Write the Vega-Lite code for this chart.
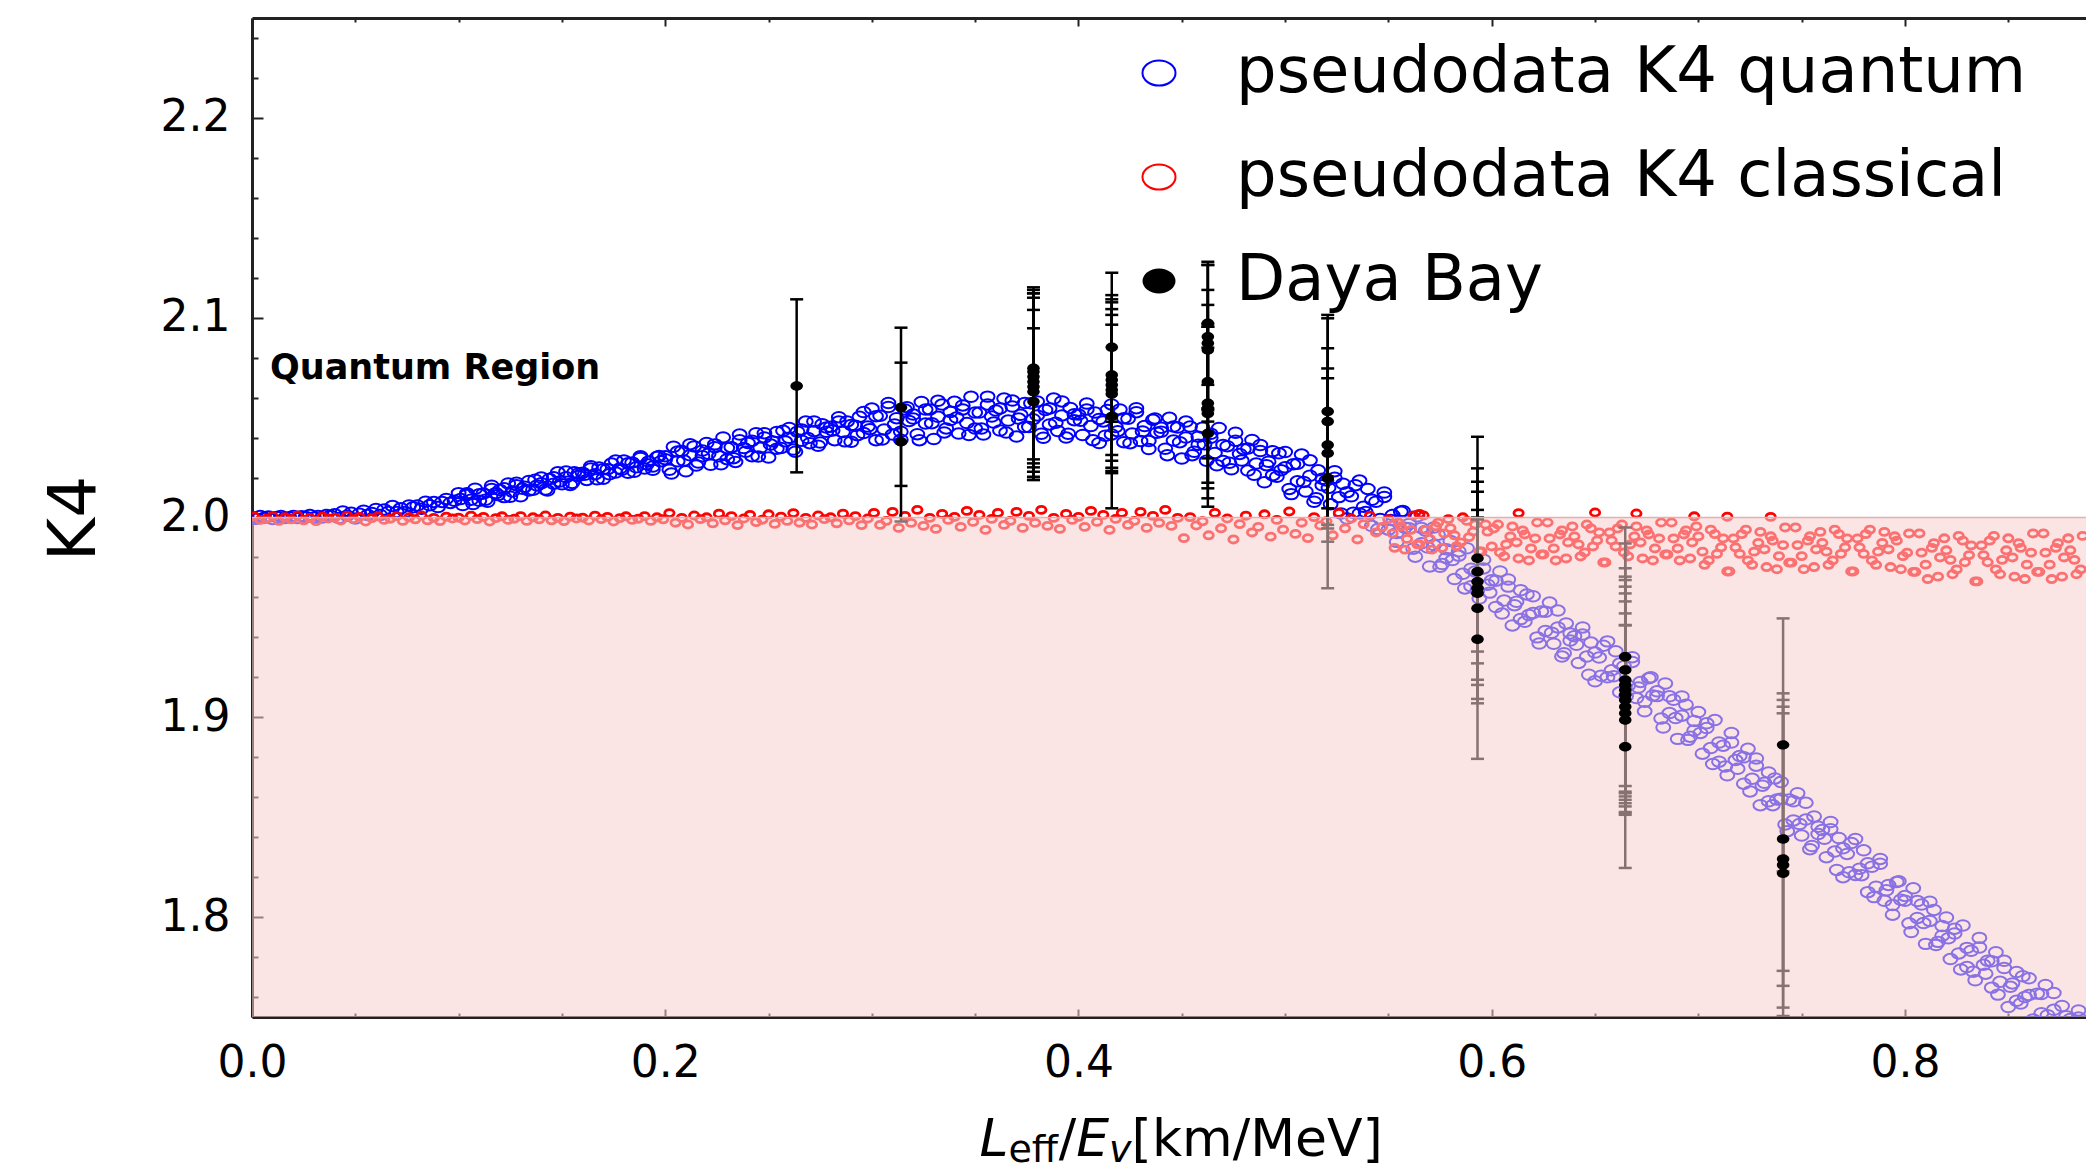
{
"$schema":"https://vega.github.io/schema/vega-lite/v6.json",
"width":1834,"height":999,
"autosize":{"type":"none"},
"padding":{"left":252,"top":18,"right":0,"bottom":155},
"background":"#ffffff",
"config":{"view":{"stroke":null},"font":"DejaVu Sans","axis":{"zindex":1,"grid":false,"labelFlush":false,"labelOverlap":false,"tickColor":"#222222","domainColor":"#222222","tickWidth":2,"domainWidth":3,"labelColor":"#000000","labelFont":"DejaVu Sans"}},
"datasets":{
"blue":[{"x":0,"y":2.0002},{"x":0.002,"y":1.9994},{"x":0.004,"y":2.0007},{"x":0.006,"y":1.9999},{"x":0.008,"y":2.0005},{"x":0.01,"y":1.9993},{"x":0.012,"y":2.0002},{"x":0.014,"y":2.0007},{"x":0.016,"y":1.9998},{"x":0.018,"y":2.0001},{"x":0.02,"y":2.0008},{"x":0.022,"y":1.9997},{"x":0.024,"y":2.0006},{"x":0.026,"y":2.0002},{"x":0.028,"y":2.0012},{"x":0.03,"y":2.0},{"x":0.032,"y":2.0008},{"x":0.034,"y":2.0},{"x":0.036,"y":2.0013},{"x":0.038,"y":2.0009},
{"x":0.04,"y":2.0016},{"x":0.042,"y":1.9997},{"x":0.044,"y":2.003},{"x":0.046,"y":2.0009},{"x":0.048,"y":2.0024},{"x":0.05,"y":1.9995},{"x":0.052,"y":2.0019},{"x":0.054,"y":2.0034},{"x":0.056,"y":2.0012},{"x":0.058,"y":2.0023},{"x":0.06,"y":2.0043},{"x":0.062,"y":2.0013},{"x":0.064,"y":2.004},{"x":0.066,"y":2.0028},{"x":0.068,"y":2.0057},{"x":0.07,"y":2.0027},{"x":0.072,"y":2.0046},{"x":0.074,"y":2.0027},{"x":0.076,"y":2.006},{"x":0.078,"y":2.0051},
{"x":0.08,"y":2.006},{"x":0.082,"y":2.0044},{"x":0.084,"y":2.0079},{"x":0.086,"y":2.0061},{"x":0.088,"y":2.0078},{"x":0.09,"y":2.0052},{"x":0.092,"y":2.0078},{"x":0.094,"y":2.0093},{"x":0.096,"y":2.0073},{"x":0.098,"y":2.0084},{"x":0.1,"y":2.0122},{"x":0.102,"y":2.0062},{"x":0.104,"y":2.0113},{"x":0.106,"y":2.0089},{"x":0.108,"y":2.0144},{"x":0.11,"y":2.0084},{"x":0.112,"y":2.012},{"x":0.114,"y":2.0079},{"x":0.116,"y":2.0143},{"x":0.118,"y":2.0122},
{"x":0.12,"y":2.0138},{"x":0.122,"y":2.0102},{"x":0.124,"y":2.017},{"x":0.126,"y":2.013},{"x":0.128,"y":2.0162},{"x":0.13,"y":2.0106},{"x":0.132,"y":2.0154},{"x":0.134,"y":2.0183},{"x":0.136,"y":2.0139},{"x":0.138,"y":2.016},{"x":0.14,"y":2.02},{"x":0.142,"y":2.014},{"x":0.144,"y":2.0193},{"x":0.146,"y":2.0169},{"x":0.148,"y":2.0226},{"x":0.15,"y":2.0166},{"x":0.152,"y":2.0202},{"x":0.154,"y":2.0163},{"x":0.156,"y":2.0227},{"x":0.158,"y":2.0208},
{"x":0.16,"y":2.0224},{"x":0.162,"y":2.0188},{"x":0.164,"y":2.0257},{"x":0.166,"y":2.0217},{"x":0.168,"y":2.025},{"x":0.17,"y":2.0194},{"x":0.172,"y":2.0242},{"x":0.174,"y":2.027},{"x":0.176,"y":2.0225},{"x":0.178,"y":2.0245},{"x":0.18,"y":2.0285},{"x":0.182,"y":2.0224},{"x":0.184,"y":2.0275},{"x":0.186,"y":2.0251},{"x":0.188,"y":2.0306},{"x":0.19,"y":2.0245},{"x":0.192,"y":2.028},{"x":0.194,"y":2.0239},{"x":0.196,"y":2.0303},{"x":0.198,"y":2.0282},
{"x":0.2,"y":2.0306},{"x":0.202,"y":2.0239},{"x":0.204,"y":2.0354},{"x":0.206,"y":2.0281},{"x":0.208,"y":2.0333},{"x":0.21,"y":2.0231},{"x":0.212,"y":2.0311},{"x":0.214,"y":2.0356},{"x":0.216,"y":2.0275},{"x":0.218,"y":2.0307},{"x":0.22,"y":2.0373},{"x":0.222,"y":2.0264},{"x":0.224,"y":2.0352},{"x":0.226,"y":2.0306},{"x":0.228,"y":2.0401},{"x":0.23,"y":2.0292},{"x":0.232,"y":2.0352},{"x":0.234,"y":2.0278},{"x":0.236,"y":2.0387},{"x":0.238,"y":2.0348},
{"x":0.24,"y":2.0373},{"x":0.242,"y":2.0307},{"x":0.244,"y":2.0422},{"x":0.246,"y":2.0349},{"x":0.248,"y":2.0401},{"x":0.25,"y":2.03},{"x":0.252,"y":2.0381},{"x":0.254,"y":2.0428},{"x":0.256,"y":2.0348},{"x":0.258,"y":2.0381},{"x":0.26,"y":2.0448},{"x":0.262,"y":2.034},{"x":0.264,"y":2.0429},{"x":0.266,"y":2.0384},{"x":0.268,"y":2.048},{"x":0.27,"y":2.0372},{"x":0.272,"y":2.0432},{"x":0.274,"y":2.0359},{"x":0.276,"y":2.0467},{"x":0.278,"y":2.0429},
{"x":0.28,"y":2.0454},{"x":0.282,"y":2.0387},{"x":0.284,"y":2.0502},{"x":0.286,"y":2.0428},{"x":0.288,"y":2.0481},{"x":0.29,"y":2.0379},{"x":0.292,"y":2.0459},{"x":0.294,"y":2.0504},{"x":0.296,"y":2.0423},{"x":0.298,"y":2.0455},{"x":0.3,"y":2.0545},{"x":0.302,"y":2.0387},{"x":0.304,"y":2.0509},{"x":0.306,"y":2.0441},{"x":0.308,"y":2.0573},{"x":0.31,"y":2.0415},{"x":0.312,"y":2.0497},{"x":0.314,"y":2.0389},{"x":0.316,"y":2.0541},{"x":0.318,"y":2.0483},
{"x":0.32,"y":2.0515},{"x":0.322,"y":2.0417},{"x":0.324,"y":2.0578},{"x":0.326,"y":2.047},{"x":0.328,"y":2.0541},{"x":0.33,"y":2.0393},{"x":0.332,"y":2.0504},{"x":0.334,"y":2.0565},{"x":0.336,"y":2.0446},{"x":0.338,"y":2.0488},{"x":0.34,"y":2.0579},{"x":0.342,"y":2.042},{"x":0.344,"y":2.0541},{"x":0.346,"y":2.0473},{"x":0.348,"y":2.0604},{"x":0.35,"y":2.0445},{"x":0.352,"y":2.0525},{"x":0.354,"y":2.0415},{"x":0.356,"y":2.0565},{"x":0.358,"y":2.0505},
{"x":0.36,"y":2.0535},{"x":0.362,"y":2.0435},{"x":0.364,"y":2.0595},{"x":0.366,"y":2.0485},{"x":0.368,"y":2.0555},{"x":0.37,"y":2.0405},{"x":0.372,"y":2.0514},{"x":0.374,"y":2.0573},{"x":0.376,"y":2.0453},{"x":0.378,"y":2.0492},{"x":0.38,"y":2.0581},{"x":0.382,"y":2.0419},{"x":0.384,"y":2.0538},{"x":0.386,"y":2.0466},{"x":0.388,"y":2.0595},{"x":0.39,"y":2.0433},{"x":0.392,"y":2.0511},{"x":0.394,"y":2.04},{"x":0.396,"y":2.0548},{"x":0.398,"y":2.0487},
{"x":0.4,"y":2.0515},{"x":0.402,"y":2.0413},{"x":0.404,"y":2.057},{"x":0.406,"y":2.0458},{"x":0.408,"y":2.0525},{"x":0.41,"y":2.0373},{"x":0.412,"y":2.0481},{"x":0.414,"y":2.0538},{"x":0.416,"y":2.0416},{"x":0.418,"y":2.0453},{"x":0.42,"y":2.0541},{"x":0.422,"y":2.0377},{"x":0.424,"y":2.0494},{"x":0.426,"y":2.042},{"x":0.428,"y":2.0547},{"x":0.43,"y":2.0383},{"x":0.432,"y":2.0458},{"x":0.434,"y":2.0343},{"x":0.436,"y":2.0489},{"x":0.438,"y":2.0424},
{"x":0.44,"y":2.0449},{"x":0.442,"y":2.0344},{"x":0.444,"y":2.0499},{"x":0.446,"y":2.0385},{"x":0.448,"y":2.045},{"x":0.45,"y":2.0295},{"x":0.452,"y":2.04},{"x":0.454,"y":2.0455},{"x":0.456,"y":2.0329},{"x":0.458,"y":2.0364},{"x":0.46,"y":2.0449},{"x":0.462,"y":2.0284},{"x":0.464,"y":2.0399},{"x":0.466,"y":2.0323},{"x":0.468,"y":2.0448},{"x":0.47,"y":2.0283},{"x":0.472,"y":2.0357},{"x":0.474,"y":2.0241},{"x":0.476,"y":2.0384},{"x":0.478,"y":2.0318},
{"x":0.48,"y":2.0342},{"x":0.482,"y":2.0235},{"x":0.484,"y":2.0388},{"x":0.486,"y":2.027},{"x":0.488,"y":2.0333},{"x":0.49,"y":2.0176},{"x":0.492,"y":2.0279},{"x":0.494,"y":2.0332},{"x":0.496,"y":2.0204},{"x":0.498,"y":2.0237},{"x":0.5,"y":2.0328},{"x":0.502,"y":2.0143},{"x":0.504,"y":2.0266},{"x":0.506,"y":2.0181},{"x":0.508,"y":2.0315},{"x":0.51,"y":2.013},{"x":0.512,"y":2.0209},{"x":0.514,"y":2.0079},{"x":0.516,"y":2.0236},{"x":0.518,"y":2.0161},
{"x":0.52,"y":2.0185},{"x":0.522,"y":2.0066},{"x":0.524,"y":2.0232},{"x":0.526,"y":2.0102},{"x":0.528,"y":2.0169},{"x":0.53,"y":1.9995},{"x":0.532,"y":2.0106},{"x":0.534,"y":2.0162},{"x":0.536,"y":2.002},{"x":0.538,"y":2.0054},{"x":0.54,"y":2.0143},{"x":0.542,"y":1.9957},{"x":0.544,"y":2.0079},{"x":0.546,"y":1.9992},{"x":0.548,"y":2.0125},{"x":0.55,"y":1.9939},{"x":0.552,"y":2.0013},{"x":0.554,"y":1.9878},{"x":0.556,"y":2.0029},{"x":0.558,"y":1.9949},
{"x":0.56,"y":1.9968},{"x":0.562,"y":1.9844},{"x":0.564,"y":2.0006},{"x":0.566,"y":1.9871},{"x":0.568,"y":1.9934},{"x":0.57,"y":1.9755},{"x":0.572,"y":1.9862},{"x":0.574,"y":1.9914},{"x":0.576,"y":1.9767},{"x":0.578,"y":1.9797},{"x":0.58,"y":1.9882},{"x":0.582,"y":1.9692},{"x":0.584,"y":1.9809},{"x":0.586,"y":1.9718},{"x":0.588,"y":1.9846},{"x":0.59,"y":1.9656},{"x":0.592,"y":1.973},{"x":0.594,"y":1.9594},{"x":0.596,"y":1.9745},{"x":0.598,"y":1.9664},
{"x":0.6,"y":1.9686},{"x":0.602,"y":1.9552},{"x":0.604,"y":1.973},{"x":0.606,"y":1.9584},{"x":0.608,"y":1.9654},{"x":0.61,"y":1.946},{"x":0.612,"y":1.9578},{"x":0.614,"y":1.9636},{"x":0.616,"y":1.9478},{"x":0.618,"y":1.9512},{"x":0.62,"y":1.9606},{"x":0.622,"y":1.94},{"x":0.624,"y":1.953},{"x":0.626,"y":1.9432},{"x":0.628,"y":1.9574},{"x":0.63,"y":1.9368},{"x":0.632,"y":1.945},{"x":0.634,"y":1.9304},{"x":0.636,"y":1.947},{"x":0.638,"y":1.9384},
{"x":0.64,"y":1.9406},{"x":0.642,"y":1.9272},{"x":0.644,"y":1.945},{"x":0.646,"y":1.9304},{"x":0.648,"y":1.9374},{"x":0.65,"y":1.918},{"x":0.652,"y":1.9299},{"x":0.654,"y":1.9358},{"x":0.656,"y":1.92},{"x":0.658,"y":1.9235},{"x":0.66,"y":1.933},{"x":0.662,"y":1.9125},{"x":0.664,"y":1.9256},{"x":0.666,"y":1.9158},{"x":0.668,"y":1.9301},{"x":0.67,"y":1.9096},{"x":0.672,"y":1.9177},{"x":0.674,"y":1.903},{"x":0.676,"y":1.9196},{"x":0.678,"y":1.9109},
{"x":0.68,"y":1.913},{"x":0.682,"y":1.8994},{"x":0.684,"y":1.9169},{"x":0.686,"y":1.9021},{"x":0.688,"y":1.9088},{"x":0.69,"y":1.8892},{"x":0.692,"y":1.9008},{"x":0.694,"y":1.9063},{"x":0.696,"y":1.8903},{"x":0.698,"y":1.8934},{"x":0.7,"y":1.9026},{"x":0.702,"y":1.8818},{"x":0.704,"y":1.8946},{"x":0.706,"y":1.8846},{"x":0.708,"y":1.8986},{"x":0.71,"y":1.8778},{"x":0.712,"y":1.8858},{"x":0.714,"y":1.871},{"x":0.716,"y":1.8874},{"x":0.718,"y":1.8786},
{"x":0.72,"y":1.8806},{"x":0.722,"y":1.8668},{"x":0.724,"y":1.8842},{"x":0.726,"y":1.8692},{"x":0.728,"y":1.8758},{"x":0.73,"y":1.856},{"x":0.732,"y":1.8672},{"x":0.734,"y":1.8724},{"x":0.736,"y":1.856},{"x":0.738,"y":1.8588},{"x":0.74,"y":1.8676},{"x":0.742,"y":1.8464},{"x":0.744,"y":1.8588},{"x":0.746,"y":1.8484},{"x":0.748,"y":1.862},{"x":0.75,"y":1.8408},{"x":0.752,"y":1.8488},{"x":0.754,"y":1.834},{"x":0.756,"y":1.8504},{"x":0.758,"y":1.8416},
{"x":0.76,"y":1.8436},{"x":0.762,"y":1.83},{"x":0.764,"y":1.8476},{"x":0.766,"y":1.8328},{"x":0.768,"y":1.8396},{"x":0.77,"y":1.82},{"x":0.772,"y":1.8316},{"x":0.774,"y":1.8371},{"x":0.776,"y":1.8211},{"x":0.778,"y":1.8242},{"x":0.78,"y":1.8334},{"x":0.782,"y":1.8125},{"x":0.784,"y":1.8252},{"x":0.786,"y":1.8152},{"x":0.788,"y":1.8291},{"x":0.79,"y":1.8082},{"x":0.792,"y":1.8161},{"x":0.794,"y":1.8012},{"x":0.796,"y":1.8176},{"x":0.798,"y":1.8087},
{"x":0.8,"y":1.8106},{"x":0.802,"y":1.7969},{"x":0.804,"y":1.8144},{"x":0.806,"y":1.7996},{"x":0.808,"y":1.8063},{"x":0.81,"y":1.7866},{"x":0.812,"y":1.7981},{"x":0.814,"y":1.8036},{"x":0.816,"y":1.7876},{"x":0.818,"y":1.7907},{"x":0.82,"y":1.7998},{"x":0.822,"y":1.779},{"x":0.824,"y":1.7918},{"x":0.826,"y":1.7818},{"x":0.828,"y":1.7958},{"x":0.83,"y":1.775},{"x":0.832,"y":1.7831},{"x":0.834,"y":1.7684},{"x":0.836,"y":1.7848},{"x":0.838,"y":1.7761},
{"x":0.84,"y":1.7782},{"x":0.842,"y":1.7647},{"x":0.844,"y":1.7824},{"x":0.846,"y":1.7676},{"x":0.848,"y":1.7745},{"x":0.85,"y":1.755},{"x":0.852,"y":1.7668},{"x":0.854,"y":1.7725},{"x":0.856,"y":1.7567},{"x":0.858,"y":1.76},{"x":0.86,"y":1.7694},{"x":0.862,"y":1.7488},{"x":0.864,"y":1.7617},{"x":0.866,"y":1.7519},{"x":0.868,"y":1.766},{"x":0.87,"y":1.7454},{"x":0.872,"y":1.7536},{"x":0.874,"y":1.7389},{"x":0.876,"y":1.7555},{"x":0.878,"y":1.7468},
{"x":0.88,"y":1.749},{"x":0.882,"y":1.7356},{"x":0.884,"y":1.7533},{"x":0.886,"y":1.7387},{"x":0.888,"y":1.7456},
{"x":0.101,"y":2.0092},{"x":0.104,"y":2.0121},{"x":0.107,"y":2.0067},{"x":0.11,"y":2.0116},{"x":0.113,"y":2.0089},{"x":0.116,"y":2.0159},{"x":0.119,"y":2.0112},{"x":0.122,"y":2.0146},{"x":0.125,"y":2.0104},{"x":0.128,"y":2.0174},{"x":0.131,"y":2.0144},{"x":0.134,"y":2.0135},{"x":0.137,"y":2.0189},{"x":0.14,"y":2.0172},{"x":0.143,"y":2.0135},{"x":0.146,"y":2.0201},{"x":0.149,"y":2.018},{"x":0.152,"y":2.023},{"x":0.155,"y":2.0173},{"x":0.158,"y":2.022},
{"x":0.161,"y":2.0214},{"x":0.164,"y":2.0245},{"x":0.167,"y":2.0191},{"x":0.17,"y":2.0242},{"x":0.173,"y":2.0216},{"x":0.176,"y":2.0285},{"x":0.179,"y":2.0239},{"x":0.182,"y":2.0272},{"x":0.185,"y":2.0229},{"x":0.188,"y":2.0298},{"x":0.191,"y":2.0267},{"x":0.194,"y":2.0255},{"x":0.197,"y":2.0308},{"x":0.2,"y":2.0292},{"x":0.203,"y":2.022},{"x":0.206,"y":2.033},{"x":0.209,"y":2.0285},{"x":0.212,"y":2.0367},{"x":0.215,"y":2.026},{"x":0.218,"y":2.0335},
{"x":0.221,"y":2.0319},{"x":0.224,"y":2.0366},{"x":0.227,"y":2.0266},{"x":0.23,"y":2.0348},{"x":0.233,"y":2.0297},{"x":0.236,"y":2.0415},{"x":0.239,"y":2.0329},{"x":0.242,"y":2.0384},{"x":0.245,"y":2.0305},{"x":0.248,"y":2.0422},{"x":0.251,"y":2.0365},{"x":0.254,"y":2.0344},{"x":0.257,"y":2.0434},{"x":0.26,"y":2.0399},{"x":0.263,"y":2.0329},{"x":0.266,"y":2.044},{"x":0.269,"y":2.0398},{"x":0.272,"y":2.0481},{"x":0.275,"y":2.0375},{"x":0.278,"y":2.045},
{"x":0.281,"y":2.0435},{"x":0.284,"y":2.0481},{"x":0.287,"y":2.0381},{"x":0.29,"y":2.0463},{"x":0.293,"y":2.0412},{"x":0.296,"y":2.0528},{"x":0.299,"y":2.0442},{"x":0.302,"y":2.0507},{"x":0.305,"y":2.039},{"x":0.308,"y":2.0553},{"x":0.311,"y":2.0466},{"x":0.314,"y":2.0429},{"x":0.317,"y":2.0552},{"x":0.32,"y":2.0495},{"x":0.323,"y":2.0387},{"x":0.326,"y":2.054},{"x":0.329,"y":2.0472},{"x":0.332,"y":2.0584},{"x":0.335,"y":2.0426},{"x":0.338,"y":2.0528},
{"x":0.341,"y":2.05},{"x":0.344,"y":2.0561},{"x":0.347,"y":2.0413},{"x":0.35,"y":2.0525},{"x":0.353,"y":2.0445},{"x":0.356,"y":2.0605},{"x":0.359,"y":2.0475},{"x":0.362,"y":2.0545},{"x":0.365,"y":2.0425},{"x":0.368,"y":2.0585},{"x":0.371,"y":2.0495},{"x":0.374,"y":2.0453},{"x":0.377,"y":2.0572},{"x":0.38,"y":2.0511},{"x":0.383,"y":2.0399},{"x":0.386,"y":2.0546},{"x":0.389,"y":2.0474},{"x":0.392,"y":2.0581},{"x":0.395,"y":2.0419},{"x":0.398,"y":2.0517},
{"x":0.401,"y":2.0484},{"x":0.404,"y":2.054},{"x":0.407,"y":2.0387},{"x":0.41,"y":2.0493},{"x":0.413,"y":2.0409},{"x":0.416,"y":2.0566},{"x":0.419,"y":2.0432},{"x":0.422,"y":2.0497},{"x":0.425,"y":2.0372},{"x":0.428,"y":2.0527},{"x":0.431,"y":2.0431},{"x":0.434,"y":2.0383},{"x":0.437,"y":2.0496},{"x":0.44,"y":2.0429},{"x":0.443,"y":2.0312},{"x":0.446,"y":2.0455},{"x":0.449,"y":2.0377},{"x":0.452,"y":2.048},{"x":0.455,"y":2.0312},{"x":0.458,"y":2.0404},
{"x":0.461,"y":2.0366},{"x":0.464,"y":2.0419},{"x":0.467,"y":2.0261},{"x":0.47,"y":2.0363},{"x":0.473,"y":2.0274},{"x":0.476,"y":2.0424},{"x":0.479,"y":2.0285},{"x":0.482,"y":2.0345},{"x":0.485,"y":2.0214},{"x":0.488,"y":2.0363},{"x":0.491,"y":2.0262},{"x":0.494,"y":2.0212},{"x":0.497,"y":2.0321},{"x":0.5,"y":2.0251},{"x":0.503,"y":2.0117},{"x":0.506,"y":2.0269},{"x":0.509,"y":2.0178},{"x":0.512,"y":2.0286},{"x":0.515,"y":2.0097},{"x":0.518,"y":2.0194},
{"x":0.521,"y":2.0148},{"x":0.524,"y":2.0199},{"x":0.527,"y":2.002},{"x":0.53,"y":2.0127},{"x":0.533,"y":2.0024},{"x":0.536,"y":2.0185},{"x":0.539,"y":2.0027},{"x":0.542,"y":2.0089},{"x":0.545,"y":1.9942},{"x":0.548,"y":2.0103},{"x":0.551,"y":1.9987},{"x":0.554,"y":1.9922},{"x":0.557,"y":2.0033},{"x":0.56,"y":1.9946},{"x":0.563,"y":1.9804},{"x":0.566,"y":1.9948},{"x":0.569,"y":1.985},{"x":0.572,"y":1.995},{"x":0.575,"y":1.9753},{"x":0.578,"y":1.9841},
{"x":0.581,"y":1.9787},{"x":0.584,"y":1.9831},{"x":0.587,"y":1.9645},{"x":0.59,"y":1.9744},{"x":0.593,"y":1.9634},{"x":0.596,"y":1.9789},{"x":0.599,"y":1.9624},{"x":0.602,"y":1.9684},{"x":0.605,"y":1.9519},{"x":0.608,"y":1.969},{"x":0.611,"y":1.9561},{"x":0.614,"y":1.9492},{"x":0.617,"y":1.9615},{"x":0.62,"y":1.9522},{"x":0.623,"y":1.9369},{"x":0.626,"y":1.9528},{"x":0.629,"y":1.9423},{"x":0.632,"y":1.9534},{"x":0.635,"y":1.9321},{"x":0.638,"y":1.942},
{"x":0.641,"y":1.9363},{"x":0.644,"y":1.9414},{"x":0.647,"y":1.9213},{"x":0.65,"y":1.9324},{"x":0.653,"y":1.9208},{"x":0.656,"y":1.938},{"x":0.659,"y":1.9205},{"x":0.662,"y":1.9269},{"x":0.665,"y":1.9105},{"x":0.668,"y":1.9277},{"x":0.671,"y":1.9149},{"x":0.674,"y":1.9078},{"x":0.677,"y":1.92},{"x":0.68,"y":1.9106},{"x":0.683,"y":1.8949},{"x":0.686,"y":1.9105},{"x":0.689,"y":1.8996},{"x":0.692,"y":1.9104},{"x":0.695,"y":1.8887},{"x":0.698,"y":1.8982},
{"x":0.701,"y":1.8922},{"x":0.704,"y":1.897},{"x":0.707,"y":1.8766},{"x":0.71,"y":1.8874},{"x":0.713,"y":1.8754},{"x":0.716,"y":1.8922},{"x":0.719,"y":1.8742},{"x":0.722,"y":1.88},{"x":0.725,"y":1.8629},{"x":0.728,"y":1.8794},{"x":0.731,"y":1.8658},{"x":0.734,"y":1.858},{"x":0.737,"y":1.8694},{"x":0.74,"y":1.8592},{"x":0.743,"y":1.843},{"x":0.746,"y":1.858},{"x":0.749,"y":1.8466},{"x":0.752,"y":1.8572},{"x":0.755,"y":1.8356},{"x":0.758,"y":1.8452},
{"x":0.761,"y":1.8392},{"x":0.764,"y":1.844},{"x":0.767,"y":1.8236},{"x":0.77,"y":1.8344},{"x":0.773,"y":1.8224},{"x":0.776,"y":1.8391},{"x":0.779,"y":1.821},{"x":0.782,"y":1.8269},{"x":0.785,"y":1.81},{"x":0.788,"y":1.8267},{"x":0.791,"y":1.8134},{"x":0.794,"y":1.806},{"x":0.797,"y":1.8179},{"x":0.8,"y":1.8082},{"x":0.803,"y":1.7925},{"x":0.806,"y":1.808},{"x":0.809,"y":1.797},{"x":0.812,"y":1.8077},{"x":0.815,"y":1.786},{"x":0.818,"y":1.7955},
{"x":0.821,"y":1.7894},{"x":0.824,"y":1.7942},{"x":0.827,"y":1.7738},{"x":0.83,"y":1.7846},{"x":0.833,"y":1.7727},{"x":0.836,"y":1.7896},{"x":0.839,"y":1.7717},{"x":0.842,"y":1.7779},{"x":0.845,"y":1.7612},{"x":0.848,"y":1.7781},{"x":0.851,"y":1.7651},{"x":0.854,"y":1.7581},{"x":0.857,"y":1.7704},{"x":0.86,"y":1.761},{"x":0.863,"y":1.7456},{"x":0.866,"y":1.7615},{"x":0.869,"y":1.7509},{"x":0.872,"y":1.762},{"x":0.875,"y":1.7406},{"x":0.878,"y":1.7504},
{"x":0.881,"y":1.7447},{"x":0.884,"y":1.7497}],
"red":[{"x":0.001,"y":2.0006},{"x":0.004,"y":1.9988},{"x":0.007,"y":1.9994},{"x":0.01,"y":2.0007},{"x":0.013,"y":1.9983},{"x":0.016,"y":2.0001},{"x":0.019,"y":1.9991},{"x":0.022,"y":2.001},{"x":0.025,"y":1.9986},{"x":0.028,"y":1.9998},{"x":0.031,"y":1.9982},{"x":0.034,"y":2.0004},{"x":0.037,"y":1.9995},{"x":0.04,"y":1.9999},{"x":0.043,"y":1.9985},{"x":0.046,"y":2.0009},{"x":0.049,"y":1.9992},{"x":0.052,"y":2.0003},{"x":0.055,"y":1.998},{"x":0.058,"y":1.9997},
{"x":0.061,"y":2.0006},{"x":0.064,"y":1.9988},{"x":0.067,"y":1.9994},{"x":0.07,"y":2.0007},{"x":0.073,"y":1.9983},{"x":0.076,"y":2.0001},{"x":0.079,"y":1.9991},{"x":0.082,"y":2.001},{"x":0.085,"y":1.9986},{"x":0.088,"y":1.9998},{"x":0.091,"y":1.9982},{"x":0.094,"y":2.0004},{"x":0.097,"y":1.9995},{"x":0.1,"y":1.9999},{"x":0.103,"y":1.9985},{"x":0.106,"y":2.0009},{"x":0.109,"y":1.9992},{"x":0.112,"y":2.0003},{"x":0.115,"y":1.998},{"x":0.118,"y":1.9997},
{"x":0.121,"y":2.0006},{"x":0.124,"y":1.9988},{"x":0.127,"y":1.9994},{"x":0.13,"y":2.0007},{"x":0.133,"y":1.9983},{"x":0.136,"y":2.0001},{"x":0.139,"y":1.9991},{"x":0.142,"y":2.001},{"x":0.145,"y":1.9986},{"x":0.148,"y":1.9998},{"x":0.151,"y":1.9982},{"x":0.154,"y":2.0004},{"x":0.157,"y":1.9995},{"x":0.16,"y":1.9999},{"x":0.163,"y":1.9985},{"x":0.166,"y":2.0009},{"x":0.169,"y":1.9992},{"x":0.172,"y":2.0003},{"x":0.175,"y":1.998},{"x":0.178,"y":1.9997},
{"x":0.181,"y":2.0006},{"x":0.184,"y":1.9988},{"x":0.187,"y":1.9994},{"x":0.19,"y":2.0007},{"x":0.193,"y":1.9983},{"x":0.196,"y":2.0001},{"x":0.199,"y":1.9991},
{"x":0.202,"y":2.0022},{"x":0.205,"y":1.9974},{"x":0.208,"y":1.9998},{"x":0.211,"y":1.9965},{"x":0.214,"y":2.001},{"x":0.217,"y":1.9992},{"x":0.22,"y":2.0001},{"x":0.223,"y":1.9971},{"x":0.226,"y":2.0019},{"x":0.229,"y":1.9986},{"x":0.232,"y":2.0007},{"x":0.235,"y":1.9962},{"x":0.238,"y":1.9995},{"x":0.241,"y":2.0013},{"x":0.244,"y":1.9977},{"x":0.247,"y":1.9989},{"x":0.25,"y":2.0016},{"x":0.253,"y":1.9968},{"x":0.256,"y":2.0004},{"x":0.259,"y":1.9983},
{"x":0.262,"y":2.0022},{"x":0.265,"y":1.9974},{"x":0.268,"y":1.9998},{"x":0.271,"y":1.9965},{"x":0.274,"y":2.001},{"x":0.277,"y":1.9992},{"x":0.28,"y":2.0001},{"x":0.283,"y":1.9971},{"x":0.286,"y":2.0019},{"x":0.289,"y":1.9986},{"x":0.292,"y":2.0007},{"x":0.295,"y":1.9962},{"x":0.298,"y":1.9995},
{"x":0.301,"y":2.0023},{"x":0.304,"y":1.9963},{"x":0.307,"y":1.9983},{"x":0.31,"y":2.0028},{"x":0.313,"y":1.9948},{"x":0.316,"y":2.0008},{"x":0.319,"y":1.9973},{"x":0.322,"y":2.0038},{"x":0.325,"y":1.9958},{"x":0.328,"y":1.9998},{"x":0.331,"y":1.9943},{"x":0.334,"y":2.0018},{"x":0.337,"y":1.9988},{"x":0.34,"y":2.0003},{"x":0.343,"y":1.9953},{"x":0.346,"y":2.0033},{"x":0.349,"y":1.9978},{"x":0.352,"y":2.0013},{"x":0.355,"y":1.9938},{"x":0.358,"y":1.9993},
{"x":0.361,"y":2.0023},{"x":0.364,"y":1.9963},{"x":0.367,"y":1.9983},{"x":0.37,"y":2.0028},{"x":0.373,"y":1.9948},{"x":0.376,"y":2.0008},{"x":0.379,"y":1.9973},{"x":0.382,"y":2.0038},{"x":0.385,"y":1.9958},{"x":0.388,"y":1.9998},{"x":0.391,"y":1.9943},{"x":0.394,"y":2.0018},{"x":0.397,"y":1.9988},{"x":0.4,"y":2.0003},{"x":0.403,"y":1.9953},{"x":0.406,"y":2.0033},{"x":0.409,"y":1.9978},{"x":0.412,"y":2.0013},{"x":0.415,"y":1.9938},{"x":0.418,"y":1.9993},
{"x":0.421,"y":2.0023},{"x":0.424,"y":1.9963},{"x":0.427,"y":1.9983},{"x":0.43,"y":2.0028},{"x":0.433,"y":1.9948},{"x":0.436,"y":2.0008},{"x":0.439,"y":1.9973},{"x":0.442,"y":2.0038},{"x":0.445,"y":1.9958},{"x":0.448,"y":1.9998},
{"x":0.451,"y":1.9897},{"x":0.454,"y":2.0002},{"x":0.457,"y":1.996},{"x":0.46,"y":1.9981},{"x":0.463,"y":1.9911},{"x":0.466,"y":2.0023},{"x":0.469,"y":1.9946},{"x":0.472,"y":1.9995},{"x":0.475,"y":1.989},{"x":0.478,"y":1.9967},{"x":0.481,"y":2.0009},{"x":0.484,"y":1.9925},{"x":0.487,"y":1.9953},{"x":0.49,"y":2.0016},{"x":0.493,"y":1.9904},{"x":0.496,"y":1.9988},{"x":0.499,"y":1.9939},{"x":0.502,"y":2.003},{"x":0.505,"y":1.9918},{"x":0.508,"y":1.9974},
{"x":0.511,"y":1.9897},{"x":0.514,"y":2.0002},{"x":0.517,"y":1.996},{"x":0.52,"y":1.9981},{"x":0.523,"y":1.9911},{"x":0.526,"y":2.0023},{"x":0.529,"y":1.9946},{"x":0.532,"y":1.9995},{"x":0.535,"y":1.989},{"x":0.538,"y":1.9967},{"x":0.541,"y":2.0009},{"x":0.544,"y":1.9925},{"x":0.547,"y":1.9953},
{"x":0.55,"y":1.9992},{"x":0.553,"y":1.9848},{"x":0.556,"y":1.9956},{"x":0.559,"y":1.9893},{"x":0.562,"y":2.001},{"x":0.565,"y":1.9866},{"x":0.568,"y":1.9938},{"x":0.571,"y":1.9839},{"x":0.574,"y":1.9974},{"x":0.577,"y":1.992},{"x":0.58,"y":1.9947},{"x":0.583,"y":1.9857},{"x":0.586,"y":2.0001},{"x":0.589,"y":1.9902},{"x":0.592,"y":1.9965},{"x":0.595,"y":1.983},{"x":0.598,"y":1.9929},
{"x":0.601,"y":1.9945},{"x":0.604,"y":1.9825},{"x":0.607,"y":1.9865},{"x":0.61,"y":1.9955},{"x":0.613,"y":1.9795},{"x":0.616,"y":1.9915},{"x":0.619,"y":1.9845},{"x":0.622,"y":1.9975},{"x":0.625,"y":1.9815},{"x":0.628,"y":1.9895},{"x":0.631,"y":1.9785},{"x":0.634,"y":1.9935},{"x":0.637,"y":1.9875},{"x":0.64,"y":1.9905},{"x":0.643,"y":1.9805},{"x":0.646,"y":1.9965},{"x":0.649,"y":1.9855},{"x":0.652,"y":1.9925},{"x":0.655,"y":1.9775},{"x":0.658,"y":1.9885},
{"x":0.661,"y":1.9945},{"x":0.664,"y":1.9825},{"x":0.667,"y":1.9865},{"x":0.67,"y":1.9955},{"x":0.673,"y":1.9795},{"x":0.676,"y":1.9915},{"x":0.679,"y":1.9845},{"x":0.682,"y":1.9975},{"x":0.685,"y":1.9815},{"x":0.688,"y":1.9895},{"x":0.691,"y":1.9785},{"x":0.694,"y":1.9935},{"x":0.697,"y":1.9875},{"x":0.7,"y":1.9905},
{"x":0.703,"y":1.9763},{"x":0.706,"y":1.9939},{"x":0.709,"y":1.9818},{"x":0.712,"y":1.9895},{"x":0.715,"y":1.973},{"x":0.718,"y":1.9851},
{"x":0.721,"y":1.9917},{"x":0.724,"y":1.9785},{"x":0.727,"y":1.9829},{"x":0.73,"y":1.9928},{"x":0.733,"y":1.9752},{"x":0.736,"y":1.9884},{"x":0.739,"y":1.9807},{"x":0.742,"y":1.995},{"x":0.745,"y":1.9774},{"x":0.748,"y":1.9862},{"x":0.751,"y":1.9741},{"x":0.754,"y":1.9906},{"x":0.757,"y":1.984},{"x":0.76,"y":1.9873},{"x":0.763,"y":1.9763},{"x":0.766,"y":1.9939},{"x":0.769,"y":1.9818},{"x":0.772,"y":1.9895},{"x":0.775,"y":1.973},{"x":0.778,"y":1.9851},
{"x":0.781,"y":1.9917},{"x":0.784,"y":1.9785},{"x":0.787,"y":1.9829},{"x":0.79,"y":1.9928},{"x":0.793,"y":1.9752},{"x":0.796,"y":1.9884},{"x":0.799,"y":1.9807},
{"x":0.802,"y":1.992},{"x":0.805,"y":1.9728},{"x":0.808,"y":1.9824},{"x":0.811,"y":1.9692},{"x":0.814,"y":1.9872},{"x":0.817,"y":1.98},{"x":0.82,"y":1.9836},{"x":0.823,"y":1.9716},{"x":0.826,"y":1.9908},{"x":0.829,"y":1.9776},{"x":0.832,"y":1.986},{"x":0.835,"y":1.968},{"x":0.838,"y":1.9812},{"x":0.841,"y":1.9884},{"x":0.844,"y":1.974},{"x":0.847,"y":1.9788},{"x":0.85,"y":1.9896},{"x":0.853,"y":1.9704},{"x":0.856,"y":1.9848},{"x":0.859,"y":1.9764},
{"x":0.862,"y":1.992},{"x":0.865,"y":1.9728},{"x":0.868,"y":1.9824},{"x":0.871,"y":1.9692},{"x":0.874,"y":1.9872},{"x":0.877,"y":1.98},{"x":0.88,"y":1.9836},{"x":0.883,"y":1.9716},{"x":0.886,"y":1.9908},
{"x":0.552,"y":1.992},{"x":0.555,"y":1.9974},{"x":0.558,"y":1.9839},{"x":0.561,"y":1.9938},{"x":0.564,"y":1.9866},{"x":0.567,"y":2.001},{"x":0.57,"y":1.9893},{"x":0.573,"y":1.9956},{"x":0.576,"y":1.9848},{"x":0.579,"y":1.9992},{"x":0.582,"y":1.9911},{"x":0.585,"y":1.9875},{"x":0.588,"y":1.9983},{"x":0.591,"y":1.9929},{"x":0.594,"y":1.983},{"x":0.597,"y":1.9965},
{"x":0.6,"y":1.9855},{"x":0.603,"y":1.9965},{"x":0.606,"y":1.9805},{"x":0.609,"y":1.9905},{"x":0.612,"y":1.9875},{"x":0.615,"y":1.9935},{"x":0.618,"y":1.9785},{"x":0.621,"y":1.9895},{"x":0.624,"y":1.9815},{"x":0.627,"y":1.9975},{"x":0.63,"y":1.9845},{"x":0.633,"y":1.9915},{"x":0.636,"y":1.9795},{"x":0.639,"y":1.9955},{"x":0.642,"y":1.9865},{"x":0.645,"y":1.9825},{"x":0.648,"y":1.9945},{"x":0.651,"y":1.9885},{"x":0.654,"y":1.9775},{"x":0.657,"y":1.9925},
{"x":0.66,"y":1.9855},{"x":0.663,"y":1.9965},{"x":0.666,"y":1.9805},{"x":0.669,"y":1.9905},{"x":0.672,"y":1.9875},{"x":0.675,"y":1.9935},{"x":0.678,"y":1.9785},{"x":0.681,"y":1.9895},{"x":0.684,"y":1.9815},{"x":0.687,"y":1.9975},{"x":0.69,"y":1.9845},{"x":0.693,"y":1.9915},{"x":0.696,"y":1.9795},{"x":0.699,"y":1.9955},
{"x":0.702,"y":1.9829},{"x":0.705,"y":1.9785},{"x":0.708,"y":1.9917},{"x":0.711,"y":1.9851},{"x":0.714,"y":1.973},{"x":0.717,"y":1.9895},{"x":0.72,"y":1.9818},{"x":0.723,"y":1.9939},{"x":0.726,"y":1.9763},{"x":0.729,"y":1.9873},
{"x":0.732,"y":1.984},{"x":0.735,"y":1.9906},{"x":0.738,"y":1.9741},{"x":0.741,"y":1.9862},{"x":0.744,"y":1.9774},{"x":0.747,"y":1.995},{"x":0.75,"y":1.9807},{"x":0.753,"y":1.9884},{"x":0.756,"y":1.9752},{"x":0.759,"y":1.9928},{"x":0.762,"y":1.9829},{"x":0.765,"y":1.9785},{"x":0.768,"y":1.9917},{"x":0.771,"y":1.9851},{"x":0.774,"y":1.973},{"x":0.777,"y":1.9895},{"x":0.78,"y":1.9818},{"x":0.783,"y":1.9939},{"x":0.786,"y":1.9763},{"x":0.789,"y":1.9873},
{"x":0.792,"y":1.984},{"x":0.795,"y":1.9906},{"x":0.798,"y":1.9741},
{"x":0.801,"y":1.9824},{"x":0.804,"y":1.9728},{"x":0.807,"y":1.992},{"x":0.81,"y":1.9764},{"x":0.813,"y":1.9848},{"x":0.816,"y":1.9704},{"x":0.819,"y":1.9896},{"x":0.822,"y":1.9788},{"x":0.825,"y":1.974},{"x":0.828,"y":1.9884},{"x":0.831,"y":1.9812},{"x":0.834,"y":1.968},{"x":0.837,"y":1.986},{"x":0.84,"y":1.9776},{"x":0.843,"y":1.9908},{"x":0.846,"y":1.9716},{"x":0.849,"y":1.9836},
{"x":0.852,"y":1.98},{"x":0.855,"y":1.9872},{"x":0.858,"y":1.9692},{"x":0.861,"y":1.9824},{"x":0.864,"y":1.9728},{"x":0.867,"y":1.992},{"x":0.87,"y":1.9764},{"x":0.873,"y":1.9848},{"x":0.876,"y":1.9704},{"x":0.879,"y":1.9896},{"x":0.882,"y":1.9788},{"x":0.885,"y":1.974},
{"x":0.565,"y":2.0018},{"x":0.613,"y":2.0022},{"x":0.65,"y":2.0025},{"x":0.67,"y":2.002},{"x":0.698,"y":2.0006},{"x":0.714,"y":2.0004},{"x":0.735,"y":2.0003}],
"daya":[{"x":0.2636,"y":2.0658,"lo":2.0226,"hi":2.1092},
{"x":0.3141,"y":2.055,"lo":2.0158,"hi":2.095},{"x":0.3141,"y":2.0379,"lo":1.998,"hi":2.0775},
{"x":0.3782,"y":2.0747,"lo":2.0291,"hi":2.1152},{"x":0.3782,"y":2.073,"lo":2.0271,"hi":2.1139},{"x":0.3782,"y":2.0705,"lo":2.0251,"hi":2.1122},{"x":0.3782,"y":2.068,"lo":2.0229,"hi":2.1122},{"x":0.3782,"y":2.0655,"lo":2.0204,"hi":2.11},{"x":0.3782,"y":2.063,"lo":2.0188,"hi":2.1039},{"x":0.3782,"y":2.058,"lo":2.0188,"hi":2.0947},
{"x":0.4161,"y":2.0852,"lo":2.0479,"hi":2.1225},{"x":0.4161,"y":2.0713,"lo":2.0313,"hi":2.1113},{"x":0.4161,"y":2.0688,"lo":2.0284,"hi":2.1092},{"x":0.4161,"y":2.0663,"lo":2.0249,"hi":2.1077},{"x":0.4161,"y":2.0638,"lo":2.0233,"hi":2.1043},{"x":0.4161,"y":2.0618,"lo":2.0222,"hi":2.1014},{"x":0.4161,"y":2.0505,"lo":2.0046,"hi":2.0965},
{"x":0.4626,"y":2.0972,"lo":2.0664,"hi":2.128},{"x":0.4626,"y":2.0905,"lo":2.0546,"hi":2.1264},{"x":0.4626,"y":2.0872,"lo":2.048,"hi":2.1264},{"x":0.4626,"y":2.0838,"lo":2.0537,"hi":2.1139},{"x":0.4626,"y":2.068,"lo":2.0296,"hi":2.1064},{"x":0.4626,"y":2.0572,"lo":2.0174,"hi":2.097},{"x":0.4626,"y":2.0547,"lo":2.0146,"hi":2.0955},{"x":0.4626,"y":2.0521,"lo":2.0096,"hi":2.0955},{"x":0.4626,"y":2.0421,"lo":2.0054,"hi":2.085},
{"x":0.5206,"y":2.053,"lo":2.0046,"hi":2.1014},{"x":0.5206,"y":2.048,"lo":1.9963,"hi":2.0997},{"x":0.5206,"y":2.0363,"lo":1.9879,"hi":2.0847},{"x":0.5206,"y":2.0321,"lo":1.9945,"hi":2.0697},{"x":0.5206,"y":2.0196,"lo":1.9646,"hi":2.0746},
{"x":0.5931,"y":1.9796,"lo":1.9188,"hi":2.0404},{"x":0.5931,"y":1.9729,"lo":1.927,"hi":2.0246},{"x":0.5931,"y":1.9679,"lo":1.9162,"hi":2.0179},{"x":0.5931,"y":1.9646,"lo":1.907,"hi":2.0129},{"x":0.5931,"y":1.9621,"lo":1.9329,"hi":2.0038},{"x":0.5931,"y":1.9546,"lo":1.9092,"hi":2.0},{"x":0.5931,"y":1.9391,"lo":1.8792,"hi":1.999},
{"x":0.6646,"y":1.9303,"lo":1.8656,"hi":1.995},{"x":0.6646,"y":1.9237,"lo":1.8604,"hi":1.987},{"x":0.6646,"y":1.9187,"lo":1.8628,"hi":1.9746},{"x":0.6646,"y":1.9162,"lo":1.862,"hi":1.9704},{"x":0.6646,"y":1.9137,"lo":1.8587,"hi":1.9687},{"x":0.6646,"y":1.9112,"lo":1.857,"hi":1.9654},{"x":0.6646,"y":1.9087,"lo":1.8554,"hi":1.962},{"x":0.6646,"y":1.9053,"lo":1.8526,"hi":1.958},{"x":0.6646,"y":1.902,"lo":1.852,"hi":1.952},{"x":0.6646,"y":1.8987,"lo":1.8512,"hi":1.9462},{"x":0.6646,"y":1.8853,"lo":1.8246,"hi":1.946},
{"x":0.741,"y":1.8862,"lo":1.8229,"hi":1.9495},{"x":0.741,"y":1.8391,"lo":1.7731,"hi":1.912},{"x":0.741,"y":1.8291,"lo":1.7547,"hi":1.9087},{"x":0.741,"y":1.8261,"lo":1.7656,"hi":1.9053},{"x":0.741,"y":1.8219,"lo":1.7505,"hi":1.902}],
"band":[{"x0":0,"x1":0.8876,"y0":1.75,"y1":2.0}],
"notes":[{"t":"Quantum Region","x":0.0087,"y":2.0693}],
"tital":[{"t":"L","x":0.3521,"y":1.6804},{"t":"E","x":0.3989,"y":1.6804}],
"treg":[{"t":"/","x":0.3904,"y":1.6804},{"t":"[km/MeV]","x":0.4257,"y":1.6804}],
"tsub":[{"t":"eff","x":0.3661,"y":1.6774}],
"tsubi":[{"t":"v","x":0.4148,"y":1.6774}]
},
"resolve":{"axis":{"x":"independent","y":"independent"}},
"layer":[
{"data":{"name":"blue"},
 "mark":{"type":"point","shape":"M-1.32,0A1.32,1,0,1,0,1.32,0A1.32,1,0,1,0,-1.32,0Z","filled":false,"size":110,"strokeWidth":2,"opacity":1,"clip":true},
 "encoding":{
  "x":{"field":"x","type":"quantitative","scale":{"domain":[0,0.8876],"nice":false,"zero":false},
       "axis":{"orient":"bottom","values":[0,0.2,0.4,0.6,0.8],"format":".1f","title":null,"labelFontSize":44,"labelPadding":32,"tickSize":-8}},
  "y":{"field":"y","type":"quantitative","scale":{"domain":[1.75,2.25],"nice":false,"zero":false},
       "axis":{"orient":"left","values":[1.8,1.9,2.0,2.1,2.2],"format":".1f","labelFontSize":44,"labelPadding":33,"tickSize":-11,
               "title":"K4","titleFont":"DejaVu Sans","titleFontSize":66,"titleFontWeight":"normal","titleColor":"#000000","titleAngle":270,"titleX":-158,"titleY":500,"titleBaseline":"alphabetic","titleAlign":"center"}},
  "stroke":{"datum":"pseudodata K4 quantum","type":"nominal",
       "scale":{"domain":["pseudodata K4 quantum","pseudodata K4 classical"],"range":["#0000ff","#ff0000"]},
       "legend":{"orient":"none","legendX":875,"legendY":23,"title":null,"padding":0,"labelFont":"DejaVu Sans","labelFontSize":64,"labelColor":"#000000","labelOffset":45,"labelLimit":1500,
                 "symbolType":"M-1.32,0A1.32,1,0,1,0,1.32,0A1.32,1,0,1,0,-1.32,0Z","symbolSize":625,"symbolStrokeWidth":2,"symbolFillColor":"transparent","rowPadding":40}}
 }},
{"data":{"name":"red"},
 "mark":{"type":"point","shape":"M-1.32,0A1.32,1,0,1,0,1.32,0A1.32,1,0,1,0,-1.32,0Z","filled":false,"size":50,"strokeWidth":2.8,"opacity":1,"clip":true},
 "encoding":{
  "x":{"field":"x","type":"quantitative","scale":{"domain":[0,0.8876],"nice":false,"zero":false},
       "axis":{"orient":"bottom","values":[0.05,0.1,0.15,0.25,0.3,0.35,0.45,0.5,0.55,0.65,0.7,0.75,0.85],"labels":false,"domain":false,"title":null,"tickSize":-4}},
  "y":{"field":"y","type":"quantitative","scale":{"domain":[1.75,2.25],"nice":false,"zero":false},
       "axis":{"orient":"left","values":[1.76,1.78,1.82,1.84,1.86,1.88,1.92,1.94,1.96,1.98,2.02,2.04,2.06,2.08,2.12,2.14,2.16,2.18,2.22,2.24],"labels":false,"domain":false,"title":null,"tickSize":-6}},
  "stroke":{"datum":"pseudodata K4 classical","type":"nominal"}
 }},
{"data":{"name":"daya"},
 "mark":{"type":"rule","color":"#000000","strokeWidth":2.5,"clip":true},
 "encoding":{
  "x":{"field":"x","type":"quantitative","scale":{"domain":[0,0.8876],"nice":false,"zero":false},
       "axis":{"orient":"top","values":[0,0.2,0.4,0.6,0.8],"labels":false,"title":null,"tickSize":-8}},
  "y":{"field":"lo","type":"quantitative","scale":{"domain":[1.75,2.25],"nice":false,"zero":false},"axis":null},
  "y2":{"field":"hi"}
 }},
{"data":{"name":"daya"},
 "mark":{"type":"tick","orient":"horizontal","color":"#000000","size":13,"thickness":2.5,"opacity":1,"clip":true},
 "encoding":{
  "x":{"field":"x","type":"quantitative","scale":{"domain":[0,0.8876],"nice":false,"zero":false},
       "axis":{"orient":"top","values":[0.05,0.1,0.15,0.25,0.3,0.35,0.45,0.5,0.55,0.65,0.7,0.75,0.85],"labels":false,"domain":false,"title":null,"tickSize":-4}},
  "y":{"field":"lo","type":"quantitative","scale":{"domain":[1.75,2.25],"nice":false,"zero":false},"axis":null}
 }},
{"data":{"name":"daya"},
 "mark":{"type":"tick","orient":"horizontal","color":"#000000","size":13,"thickness":2.5,"opacity":1,"clip":true},
 "encoding":{
  "x":{"field":"x","type":"quantitative","scale":{"domain":[0,0.8876],"nice":false,"zero":false},"axis":null},
  "y":{"field":"hi","type":"quantitative","scale":{"domain":[1.75,2.25],"nice":false,"zero":false},"axis":null}
 }},
{"data":{"name":"band"},
 "mark":{"type":"rect","fill":"#f8cece","opacity":0.55,"clip":true},
 "encoding":{
  "x":{"field":"x0","type":"quantitative","scale":{"domain":[0,0.8876],"nice":false,"zero":false},"axis":null},
  "x2":{"field":"x1"},
  "y":{"field":"y0","type":"quantitative","scale":{"domain":[1.75,2.25],"nice":false,"zero":false},"axis":null},
  "y2":{"field":"y1"}
 }},
{"data":{"name":"band"},
 "mark":{"type":"rule","color":"#e2b0b0","strokeWidth":1.5,"clip":true},
 "encoding":{
  "x":{"field":"x0","type":"quantitative","scale":{"domain":[0,0.8876],"nice":false,"zero":false},"axis":null},
  "x2":{"field":"x1"},
  "y":{"field":"y1","type":"quantitative","scale":{"domain":[1.75,2.25],"nice":false,"zero":false},"axis":null}
 }},
{"data":{"name":"daya"},
 "mark":{"type":"point","shape":"M-1.32,0A1.32,1,0,1,0,1.32,0A1.32,1,0,1,0,-1.32,0Z","filled":true,"size":90,"opacity":1,"clip":true},
 "encoding":{
  "x":{"field":"x","type":"quantitative","scale":{"domain":[0,0.8876],"nice":false,"zero":false},"axis":null},
  "y":{"field":"y","type":"quantitative","scale":{"domain":[1.75,2.25],"nice":false,"zero":false},"axis":null},
  "fill":{"datum":"Daya Bay","type":"nominal","scale":{"domain":["Daya Bay"],"range":["#000000"]},
       "legend":{"orient":"none","legendX":875,"legendY":231,"title":null,"padding":0,"labelFont":"DejaVu Sans","labelFontSize":64,"labelColor":"#000000","labelOffset":45,"labelLimit":1500,
                 "symbolType":"M-1.32,0A1.32,1,0,1,0,1.32,0A1.32,1,0,1,0,-1.32,0Z","symbolSize":625,"symbolStrokeWidth":0}}
 }},
{"data":{"name":"notes"},
 "mark":{"type":"text","align":"left","baseline":"alphabetic","font":"DejaVu Sans","fontWeight":"bold","fontSize":35,"color":"#000000"},
 "encoding":{
  "x":{"field":"x","type":"quantitative","scale":{"domain":[0,0.8876],"nice":false,"zero":false},"axis":null},
  "y":{"field":"y","type":"quantitative","scale":{"domain":[1.75,2.25],"nice":false,"zero":false},"axis":null},
  "text":{"field":"t"}
 }},
{"data":{"name":"tital"},
 "mark":{"type":"text","align":"left","baseline":"alphabetic","font":"DejaVu Sans","fontStyle":"italic","fontSize":52,"color":"#000000"},
 "encoding":{
  "x":{"field":"x","type":"quantitative","scale":{"domain":[0,0.8876],"nice":false,"zero":false},"axis":null},
  "y":{"field":"y","type":"quantitative","scale":{"domain":[1.75,2.25],"nice":false,"zero":false},"axis":null},
  "text":{"field":"t"}
 }},
{"data":{"name":"treg"},
 "mark":{"type":"text","align":"left","baseline":"alphabetic","font":"DejaVu Sans","fontSize":52,"color":"#000000"},
 "encoding":{
  "x":{"field":"x","type":"quantitative","scale":{"domain":[0,0.8876],"nice":false,"zero":false},"axis":null},
  "y":{"field":"y","type":"quantitative","scale":{"domain":[1.75,2.25],"nice":false,"zero":false},"axis":null},
  "text":{"field":"t"}
 }},
{"data":{"name":"tsub"},
 "mark":{"type":"text","align":"left","baseline":"alphabetic","font":"DejaVu Sans","fontSize":38,"color":"#000000"},
 "encoding":{
  "x":{"field":"x","type":"quantitative","scale":{"domain":[0,0.8876],"nice":false,"zero":false},"axis":null},
  "y":{"field":"y","type":"quantitative","scale":{"domain":[1.75,2.25],"nice":false,"zero":false},"axis":null},
  "text":{"field":"t"}
 }},
{"data":{"name":"tsubi"},
 "mark":{"type":"text","align":"left","baseline":"alphabetic","font":"DejaVu Sans","fontStyle":"italic","fontSize":38,"color":"#000000"},
 "encoding":{
  "x":{"field":"x","type":"quantitative","scale":{"domain":[0,0.8876],"nice":false,"zero":false},"axis":null},
  "y":{"field":"y","type":"quantitative","scale":{"domain":[1.75,2.25],"nice":false,"zero":false},"axis":null},
  "text":{"field":"t"}
 }}
]
}
